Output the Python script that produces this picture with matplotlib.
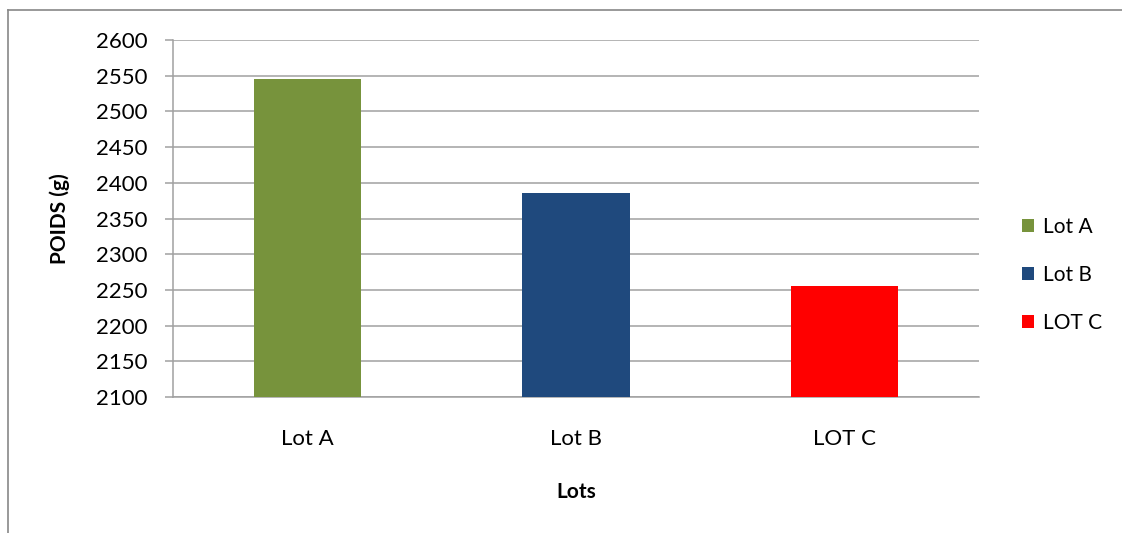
import matplotlib.pyplot as plt
from matplotlib.lines import Line2D

plt.rcParams['font.family'] = ['Lato', 'DejaVu Sans']

lots = ['Lot A', 'Lot B', 'LOT C']
poids = [2545, 2386, 2256]
colors = ['#77933C', '#1F497D', '#FF0000']
yticks = list(range(2100, 2601, 50))

W, H = 1122, 533
fig = plt.figure(figsize=(W / 100, H / 100), dpi=100)
ax = fig.add_axes([173 / W, 1 - 397 / H, (979 - 173) / W, (397 - 40) / H])

x = range(len(lots))
bars = ax.bar(x, poids, width=0.4, color=colors, label=lots, zorder=3)
ax.set_xlim(-0.5, len(lots) - 0.5)
ax.set_ylim(2100, 2600)
ax.set_yticks(yticks)
ax.set_xticks(list(x))
ax.set_xticklabels(lots)

ax.yaxis.grid(True, color='#a0a0a0', lw=1.1, zorder=0)
for s in ['top', 'right']:
    ax.spines[s].set_visible(False)
for s in ['left', 'bottom']:
    ax.spines[s].set_color('#a0a0a0')
    ax.spines[s].set_linewidth(1.1)
ax.tick_params(axis='y', length=6, color='#a0a0a0', width=1.1, pad=12, labelsize=16)
ax.tick_params(axis='x', length=0, pad=23, labelsize=16)

ax.set_ylabel('POIDS (g)', fontsize=15, fontweight='bold', labelpad=19)
ax.set_xlabel('Lots', fontsize=15, fontweight='bold', labelpad=24)

ax.legend(bars, lots, loc='center left', bbox_to_anchor=(1003 / W, 1 - 275 / H),
          bbox_transform=fig.transFigure, frameon=False, fontsize=15,
          handlelength=0.6, handleheight=0.6, handletextpad=0.4, labelspacing=1.35)

# outer chart frame
fig.add_artist(Line2D([8 / W, 8 / W], [0, 1 - 10 / H], color='#888888', lw=1.2))
fig.add_artist(Line2D([8 / W, 1], [1 - 10 / H, 1 - 10 / H], color='#888888', lw=1.2))

fig.savefig('out.png', dpi=100)
